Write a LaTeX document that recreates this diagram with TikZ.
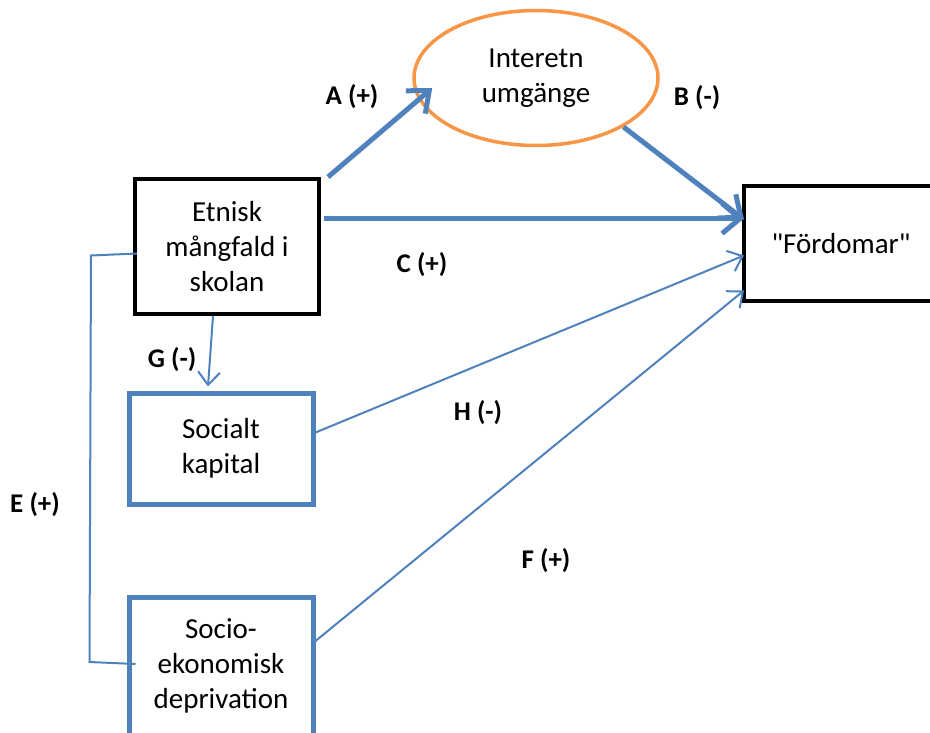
\documentclass[tikz,border=0pt]{standalone}
\usepackage{fontspec}
\setmainfont{Carlito}
\font\plaincarlito="Carlito" at 29pt
\usetikzlibrary{arrows.meta,positioning,calc,shapes.geometric}
\definecolor{Blue}{HTML}{4F81BD}
\definecolor{Orange}{HTML}{F79646}
\tikzset{
 block/.style={draw=black, line width=4pt, fill=white, minimum width=184pt, align=center, font=\fontsize{29}{35}\selectfont},
 blueblock/.style={block, draw=Blue, line width=5pt},
 oval/.style={ellipse, draw=Orange, line width=3.5pt, minimum width=244pt, minimum height=135pt, align=center, font=\fontsize{29}{35}\selectfont},
 arrow/.style={-{Straight Barb[length=18pt,width=30pt,line width=5pt]}, line width=5pt, draw=Blue},
 thinarrow/.style={-{Straight Barb[length=13pt,width=22pt,line width=2pt]}, line width=2pt, draw=Blue},
 link/.style={line width=2pt, draw=Blue},
 lbl/.style={font=\fontsize{27}{32}\selectfont\bfseries}
}
\begin{document}
\begin{tikzpicture}[x=1pt,y=-1pt]
\useasboundingbox (0,0) rectangle (930,733);
\node[block,minimum height=135pt] (etn) at (227,246.5) {Etnisk\\mångfald i\\skolan};
\node[oval] (int) at (536,78) {Interetn\\umgänge};
\node[block,minimum width=194pt,minimum height=115pt] (fo) at (841,243.5) {\plaincarlito "Fördomar"};
\node[blueblock,minimum height=111pt] (soc) at (221,448.5) {Socialt\\kapital};
\node[blueblock,minimum height=138pt] (dep) at (221,666) {Socio-\\ekonomisk\\deprivation};
% connectors
\draw[arrow] ($(etn.north east)+(7,0)$) -- ($(int.west)+(20,10)$);
\draw[arrow] (int.south east) -- ($(fo.west)+(2,-24)$);
\draw[arrow] ($(etn.east)+(3,-28)$) -- ($(fo.west)+(2,-25)$);
\draw[thinarrow] ($(etn.south)+(-14,0)$) -- ($(soc.north)+(-13,-4)$);
\draw[thinarrow] ($(soc.east)+(0,-16)$) -- ($(fo.west)+(2,12)$);
\draw[thinarrow] ($(dep.east)+(0,-25)$) -- ($(fo.west)+(2,47)$);
\draw[link] ($(etn.west)+(4,7)$) -- ++(-46,2) -- ($(dep.west)+(-37,-4)$) -- ($(dep.west)+(9,-2)$);
% labels
\node[lbl] (la) at (352,97) {A (+)};
\node[lbl] (lb) at (697,98) {B (-)};
\node[lbl] (lc) at (422,265) {C (+)};
\node[lbl] (lg) at (172,360) {G (-)};
\node[lbl] (lh) at (478,413) {H (-)};
\node[lbl] (le) at (35,505) {E (+)};
\node[lbl] (lf) at (546,561) {F (+)};
\end{tikzpicture}
\end{document}
